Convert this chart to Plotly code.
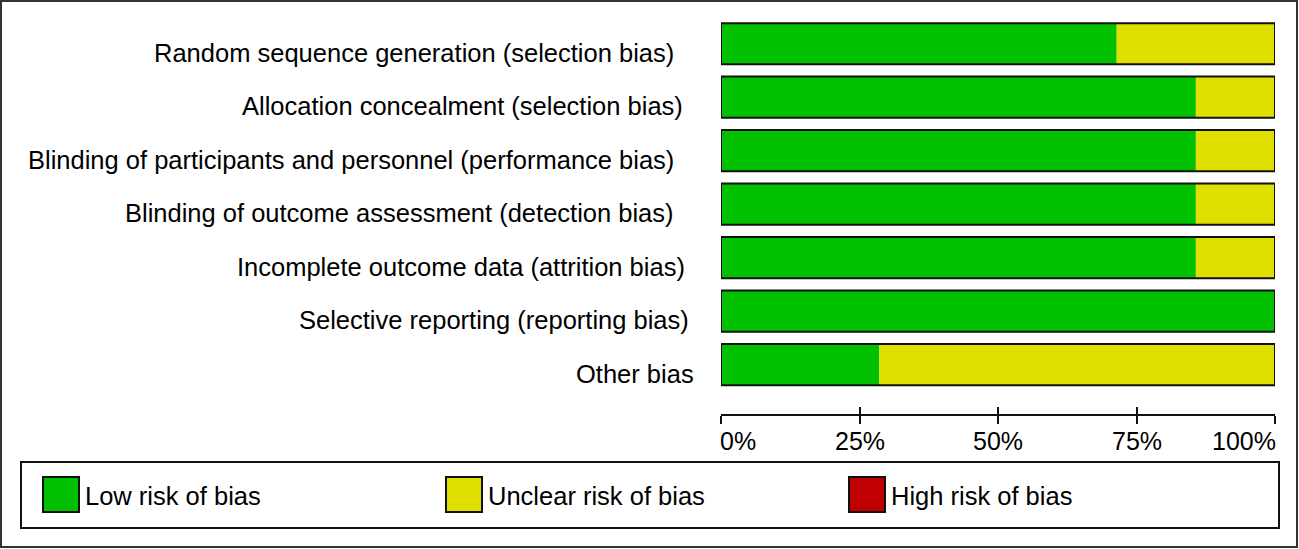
import plotly.graph_objects as go

# Risk of bias summary, 7 studies
domains = [
    'Random sequence generation (selection bias)',
    'Allocation concealment (selection bias)',
    'Blinding of participants and personnel (performance bias)',
    'Blinding of outcome assessment (detection bias)',
    'Incomplete outcome data (attrition bias)',
    'Selective reporting (reporting bias)',
    'Other bias',
]
n_low = [5, 6, 6, 6, 6, 7, 2]
n_unclear = [2, 1, 1, 1, 1, 0, 5]
n_high = [0, 0, 0, 0, 0, 0, 0]
tick_vals = [0, 25, 50, 75, 100]
tick_text = ['0%', '25%', '50%', '75%', '100%']
legend_names = ['Low risk of bias', 'Unclear risk of bias', 'High risk of bias']

n_studies = 7
low = [v / n_studies * 100 for v in n_low]
unclear = [v / n_studies * 100 for v in n_unclear]
high = [v / n_studies * 100 for v in n_high]

GREEN = '#00c000'
YELLOW = '#e0e000'
RED = '#c00000'
FONT = 'Liberation Sans, Arial, sans-serif'

W, H = 1299, 549
ML, MR, MT, MB = 721, 24, 17, 135
PW, PH = W - ML - MR, H - MT - MB
TXT_PAD = 3  # annotation box padding around the glyphs


def px(x):
    return (x - ML) / PW


def py(y):
    return (H - MB - y) / PH


ypos = list(range(len(domains)))
bw = 0.77

fig = go.Figure()
fig.add_trace(go.Bar(y=ypos, x=low, base=0, orientation='h', width=bw,
                     marker=dict(color=GREEN, line=dict(width=0)), name=legend_names[0]))
fig.add_trace(go.Bar(y=ypos, x=unclear, base=low, orientation='h', width=bw,
                     marker=dict(color=YELLOW, line=dict(width=0)), name=legend_names[1]))
fig.add_trace(go.Bar(y=ypos, x=high, base=[a + b for a, b in zip(low, unclear)],
                     orientation='h', width=bw,
                     marker=dict(color=RED, line=dict(width=0)), name=legend_names[2]))
# outline round each row
fig.add_trace(go.Bar(y=ypos, x=[100] * len(domains), base=0, orientation='h', width=bw,
                     marker=dict(color='rgba(0,0,0,0)', line=dict(color='#111', width=2)),
                     showlegend=False, hoverinfo='skip'))
# invisible trace to carry the second x axis (inner tick halves)
fig.add_trace(go.Scatter(x=[0, 100], y=[0, 0], xaxis='x2', mode='markers',
                         marker=dict(opacity=0), showlegend=False, hoverinfo='skip'))

annotations = []
# row labels, right edges as in the original figure
label_right = [673, 682, 673, 673, 684, 688, 693]
for i, d in enumerate(domains):
    annotations.append(dict(x=0, xref='paper', y=i, yref='y', text=d, showarrow=False,
                            xanchor='right', yanchor='middle',
                            xshift=label_right[i] - ML + TXT_PAD, yshift=-9,
                            font=dict(family=FONT, size=25.5, color='black')))
# percentage tick labels
anchors = ['left', 'center', 'center', 'center', 'right']
shifts = [-TXT_PAD, 0, 0, 0, TXT_PAD]
for v, t, a, s in zip(tick_vals, tick_text, anchors, shifts):
    annotations.append(dict(x=v, xref='x', y=0, yref='paper', text=t, showarrow=False,
                            xanchor=a, yanchor='middle', xshift=s, yshift=-27,
                            font=dict(family=FONT, size=25, color='black')))

shapes = []
# outer frame
shapes.append(dict(type='rect', xref='paper', yref='paper',
                   x0=px(1), x1=px(1297), y0=py(547), y1=py(1),
                   line=dict(color='#333', width=2), fillcolor='rgba(0,0,0,0)'))
# legend box
shapes.append(dict(type='rect', xref='paper', yref='paper',
                   x0=px(21), x1=px(1279), y0=py(528), y1=py(462),
                   line=dict(color='#111', width=2), fillcolor='rgba(0,0,0,0)'))
sw_left = [43, 446, 849]
for name, col, sx in zip(legend_names, [GREEN, YELLOW, RED], sw_left):
    shapes.append(dict(type='rect', xref='paper', yref='paper',
                       x0=px(sx), x1=px(sx + 36), y0=py(512), y1=py(477),
                       line=dict(color='#111', width=2), fillcolor=col))
    annotations.append(dict(x=px(sx + 43 - TXT_PAD), xref='paper', y=py(496), yref='paper',
                            text=name, showarrow=False, xanchor='left', yanchor='middle',
                            font=dict(family=FONT, size=25.5, color='black')))

fig.update_layout(
    width=W, height=H, autosize=False,
    margin=dict(l=ML, r=MR, t=MT, b=MB, pad=0),
    barmode='overlay',
    showlegend=False,
    plot_bgcolor='white', paper_bgcolor='white',
    xaxis=dict(range=[0, 100], showgrid=False, zeroline=False, showline=True,
               linecolor='#111', linewidth=2, ticks='outside', ticklen=8, tickwidth=2,
               tickcolor='#111', tickvals=tick_vals, showticklabels=False),
    xaxis2=dict(range=[0, 100], overlaying='x', side='bottom', anchor='y',
                showgrid=False, zeroline=False, showline=False, ticks='inside',
                ticklen=7, tickwidth=2, tickcolor='#111', tickvals=tick_vals,
                showticklabels=False),
    yaxis=dict(range=[len(domains) - 0.5 + 0.425, -0.5], showgrid=False, zeroline=False,
               showline=False, showticklabels=False, ticks=''),
    annotations=annotations,
    shapes=shapes,
)

# the page body has a default 8px margin; drop it so the figure fills the window
fig.write_html('out.html', config={'displayModeBar': False},
               post_script="document.body.style.margin='0';document.body.style.overflow='hidden';")
